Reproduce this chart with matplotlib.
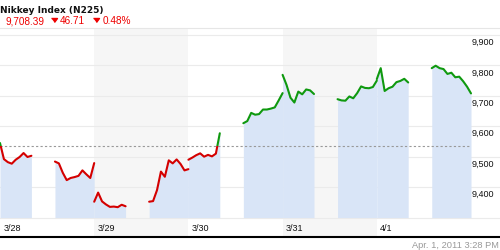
import matplotlib
matplotlib.use('Agg')
import matplotlib.pyplot as plt
from matplotlib.patches import Rectangle
import numpy as np

plt.rcParams['font.family'] = ['Liberation Sans', 'DejaVu Sans']

# trading-time axis: 9:00-15:00 each day, lunch break 11:00-12:30
days = ['3/28', '3/29', '3/30', '3/31', '4/1']
morning_min = [0, 15, 30, 45, 60, 75, 90, 105, 120]
afternoon_min = [210, 225, 240, 255, 270, 285, 300, 315, 330, 345, 360]

mar28_am = [9545, 9492, 9482, 9477, 9490, 9499, 9512, 9499, 9503]
mar28_pm = [9484, 9478, 9447, 9423, 9430, 9433, 9437, 9455, 9442, 9430, 9479]
mar29_am = [9352, 9382, 9353, 9343, 9335, 9336, 9334, 9342, 9337]
mar29_pm = [9352, 9354, 9390, 9451, 9434, 9488, 9478, 9491, 9476, 9455, 9459]
mar30_am = [9490, 9497, 9505, 9511, 9500, 9506, 9501, 9510, 9577]
mar30_pm = [9610, 9617, 9644, 9638, 9640, 9655, 9655, 9658, 9662, 9685, 9709]
mar31_am = [9769, 9736, 9694, 9678, 9714, 9705, 9721, 9718, 9706]
mar31_pm = [9689, 9685, 9684, 9698, 9692, 9709, 9731, 9726, 9725, 9729, 9750]
apr01_am = [9755, 9791, 9716, 9725, 9730, 9745, 9749, 9756, 9744]
apr01_pm = [9791, 9799, 9791, 9788, 9772, 9776, 9761, 9763, 9748, 9730, 9708]

prev_close = 9536
y_ticks = [9400, 9500, 9600, 9700, 9800, 9900]
grid_levels = [9300, 9400, 9500, 9600, 9700, 9800, 9900]
base_level = 9300

title = 'Nikkey Index (N225)'
last_price = '9,708.39'
change = '46.71'
change_pct = '0.48%'
timestamp = 'Apr. 1, 2011 3:28 PM'

mornings = [mar28_am, mar29_am, mar30_am, mar31_am, apr01_am]
afternoons = [mar28_pm, mar29_pm, mar30_pm, mar31_pm, apr01_pm]

RED = '#d40000'
GREEN = '#0f990f'
FILL = '#d9e5f7'
BAND = '#f6f6f6'
GRID = '#ebebeb'

HOURS = 6
PX_PER_HOUR = 15.7
x_max = 500 / PX_PER_HOUR
y_lo, y_hi = 9236, 9923
val_per_px = (y_hi - y_lo) / 209

fig = plt.figure(figsize=(5, 2.5), dpi=100)
ax = fig.add_axes([0, 13 / 250, 1, 209 / 250])
ax.set_xlim(0, x_max)
ax.set_ylim(y_lo, y_hi)

for i in range(len(days)):
    if i % 2 == 1:
        ax.axvspan(i * HOURS, (i + 1) * HOURS, color=BAND, lw=0, zorder=0.5)

for v in grid_levels:
    ax.axhline(v, color=GRID, lw=0.8, zorder=1)

below = Rectangle((0, y_lo), x_max, prev_close - y_lo, transform=ax.transData)
above = Rectangle((0, prev_close), x_max, y_hi - prev_close, transform=ax.transData)

for d, (am, pm) in enumerate(zip(mornings, afternoons)):
    for mins, vals in ((morning_min, am), (afternoon_min, pm)):
        x = d * HOURS + np.array(mins) / 60
        ax.fill_between(x, base_level, vals, color=FILL, lw=0, zorder=2)
        for color, clip in ((RED, below), (GREEN, above)):
            ln, = ax.plot(x, vals, color=color, lw=1.5, zorder=4,
                          solid_joinstyle='round', solid_capstyle='round')
            ln.set_clip_path(clip)

ax.hlines(prev_close, 0, len(days) * HOURS, color='#999999', lw=0.8,
          linestyle=(0, (2, 2)), zorder=3)

for v in y_ticks:
    ax.text(len(days) * HOURS + 1 / PX_PER_HOUR, v - 10 * val_per_px, f'{v:,}',
            fontsize=6.5, color='#111111', ha='left', va='baseline', zorder=5)

for i, lab in enumerate(days):
    ax.text(i * HOURS + 3.5 / PX_PER_HOUR, base_level - 13.2 * val_per_px, lab,
            fontsize=6.5, color='#111111', ha='left', va='baseline', zorder=5)

for s in ('left', 'right'):
    ax.spines[s].set_visible(False)
ax.spines['bottom'].set_color('black')
ax.spines['bottom'].set_linewidth(1.5)
ax.spines['top'].set_color('#e6e6e6')
ax.spines['top'].set_linewidth(0.8)
ax.set_xticks([])
ax.set_yticks([])

# header
fig.text(0.001, 0.949, title, fontsize=6.5, fontweight='bold', color='#111111',
         family='DejaVu Sans', ha='left', va='baseline')
fig.text(0.01, 0.903, last_price, fontsize=7.2, color='#ee0000', ha='left', va='baseline')
fig.text(0.12, 0.903, change, fontsize=7.2, color='#ee0000', ha='left', va='baseline')
fig.text(0.206, 0.903, change_pct, fontsize=7.2, color='#ee0000', ha='left', va='baseline')
tri = [(-1, 0.67), (1, 0.67), (0, -0.67)]
for tx in (0.108, 0.192):
    fig.add_artist(plt.Line2D([tx], [0.92], marker=tri, markersize=4.3, lw=0,
                              color='#ee0000', transform=fig.transFigure))

fig.text(0.998, 0.0093, timestamp, fontsize=6.7, color='#999999',
         ha='right', va='baseline')

fig.savefig('out.png', dpi=100)
